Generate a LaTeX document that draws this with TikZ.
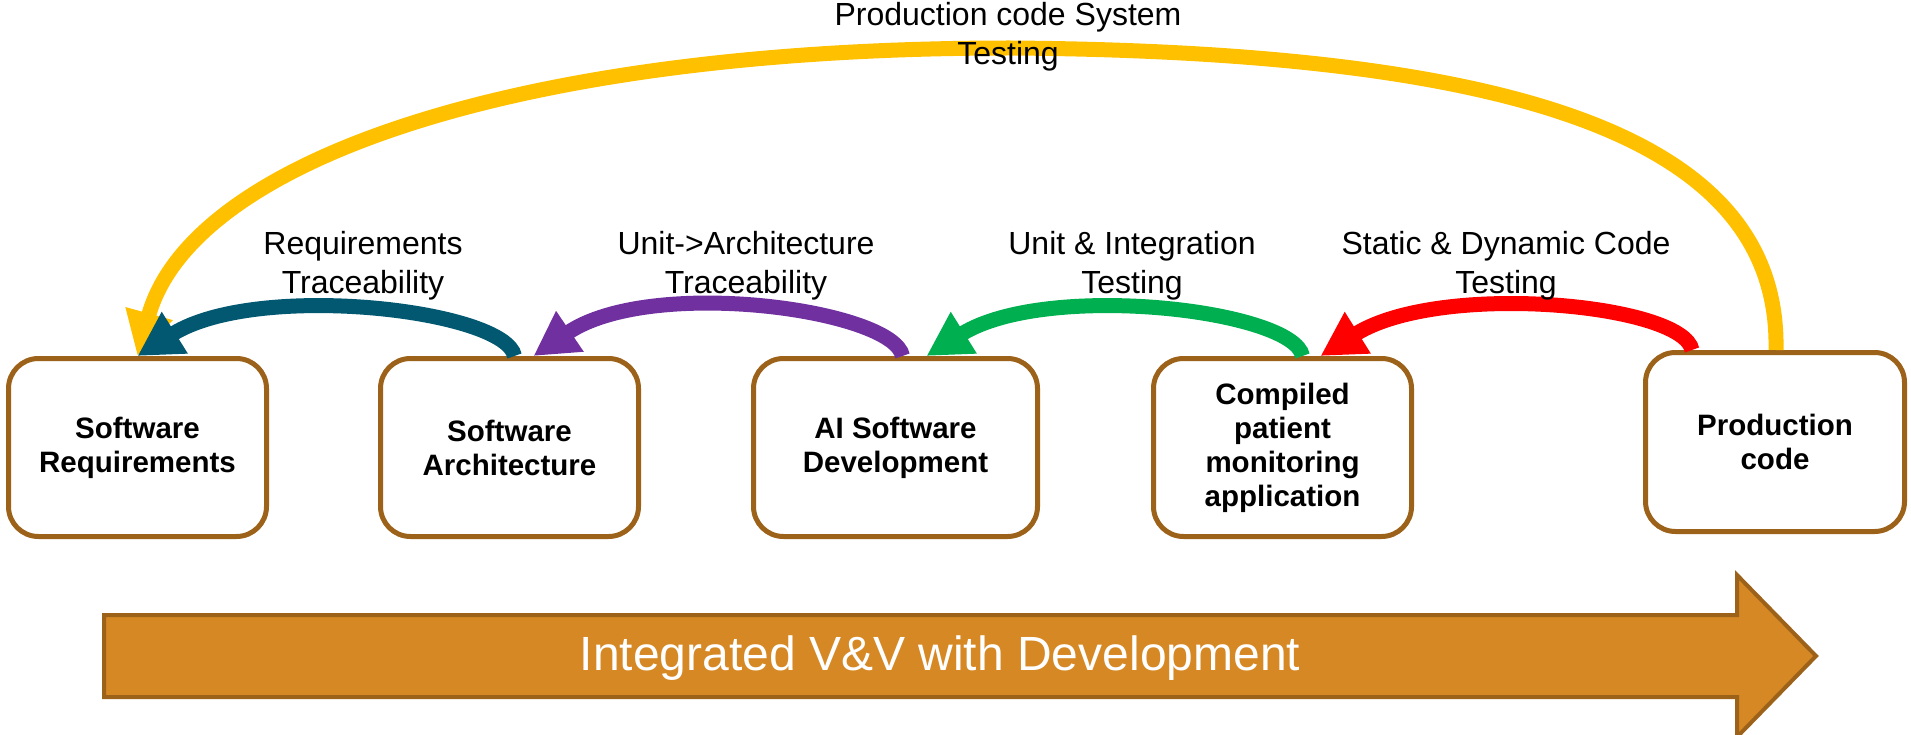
\documentclass[tikz,border=0pt]{standalone}
\usepackage{fontspec}
\setmainfont{Liberation Sans}
\usetikzlibrary{arrows.meta,calc}

\definecolor{boxbrown}{RGB}{157,98,25}
\definecolor{bandfill}{RGB}{214,136,36}
\definecolor{arrteal}{RGB}{2,88,112}
\definecolor{arrpurple}{RGB}{112,48,160}
\definecolor{arrgreen}{RGB}{0,176,80}
\definecolor{arrred}{RGB}{255,0,0}
\definecolor{arryellow}{RGB}{255,192,0}

\begin{document}
\begin{tikzpicture}[x=1pt,y=-1pt,
  stage/.style={draw=boxbrown, line width=5pt, rounded corners=30pt, fill=white,
    align=center, inner sep=0pt, minimum height=178pt,
    font=\fontsize{29.5}{34}\selectfont\bfseries},
  lbl/.style={align=center, font=\fontsize{32}{39}\selectfont},
  flow/.style={line width=15pt, -{Triangle[length=44pt,width=46pt]}},
]
\useasboundingbox (0,0) rectangle (1911,735);

% development stages
\node[stage, minimum width=258pt] (req)  at (137.5,447.5) {Software\\Requirements};
\node[stage, minimum width=258pt] (arch) at (509.5,447.5) {Software\\Architecture};
\node[stage, minimum width=284pt] (dev)  at (895.5,447.5) {AI Software\\Development};
\node[stage, minimum width=258pt] (app)  at (1282.5,447.5) {Compiled\\patient\\monitoring\\application};
\node[stage, minimum width=259pt, minimum height=179pt] (prod) at (1775,442) {Production\\code};

% system test loop from production code back to requirements
\coordinate (looptop) at (1010,48);
\draw[flow, draw=arryellow]
  ([xshift=1pt]prod.north) .. controls +(4,-200) and +(540,4) .. (looptop)
  .. controls +(-500,0) and +(53,-193) .. (req.north);

% verification steps between neighbouring stages
\draw[flow, draw=arrteal]
  ([xshift=5pt]arch.north) .. controls +(-9,-46) and +(120,-75) .. (req.north);
\draw[flow, draw=arrpurple]
  ([xshift=7pt]dev.north) .. controls +(-9,-46) and +(118,-80) .. ([xshift=24pt]arch.north);
\draw[flow, draw=arrgreen]
  ([xshift=20pt]app.north) .. controls +(-9,-46) and +(120,-75) .. ([xshift=31pt]dev.north);
\draw[flow, draw=arrred]
  ([xshift=-83pt]prod.north) .. controls +(-9,-46) and +(120,-75) .. ([xshift=38pt]app.north);

% step labels
\node[lbl] (lreq)  at (363,266)  {Requirements\\Traceability};
\node[lbl] (larch) at (746,266)  {Unit->Architecture\\Traceability};
\node[lbl] (lint)  at (1132,266) {Unit \& Integration\\Testing};
\node[lbl] (lstat) at (1506,266) {Static \& Dynamic Code\\Testing};
\node[lbl] (lsys)  at (1008,37)  {Production code System\\Testing};

% process direction band
\draw[draw=boxbrown, line width=4pt, fill=bandfill, line join=miter]
  (104,615) -- (1737,615) -- (1737,575) -- (1816,656) -- (1737,737)
  -- (1737,697) -- (104,697) -- cycle;
\node[text=white, font=\fontsize{48}{56}\selectfont] (band) at (940,658)
  {Integrated V\&V with Development};
\end{tikzpicture}
\end{document}
